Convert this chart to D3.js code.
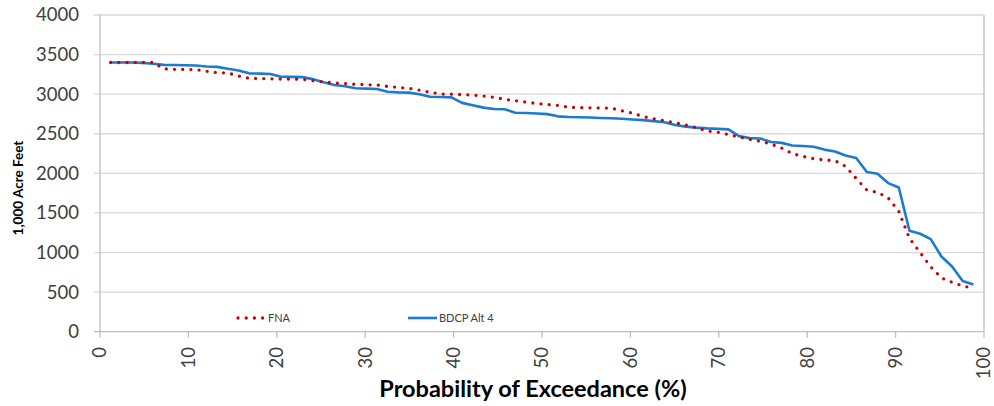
<!DOCTYPE html>
<html><head><meta charset="utf-8">
<script src="https://cdn.jsdelivr.net/npm/d3@7"></script>
<style>body{margin:0;background:#fff}svg{display:block}</style>
</head><body>
<svg id="c" width="994" height="406"></svg>
<script>
const seriesNames = ["FNA", "BDCP Alt 4"];
const nYears = 82;
const fnaValues = [3400,3400,3400,3400,3400,3320,3314,3312,3310,3290,3272,3268,3230,3200,3198,3195,3191,3190,3188,3172,
3155,3140,3135,3125,3120,3116,3098,3085,3074,3050,3023,3002,3000,2995,2990,2977,2960,2935,2918,2900,
2882,2870,2858,2835,2830,2828,2826,2824,2790,2760,2718,2690,2665,2640,2610,2577,2535,2520,2490,2460,
2430,2405,2370,2320,2250,2215,2185,2170,2160,2090,1935,1790,1760,1690,1520,1180,1000,820,680,624,580,545];
const bdcpValues = [3400,3400,3400,3395,3385,3370,3368,3366,3363,3350,3345,3320,3300,3263,3260,3255,3220,3218,3215,3190,
3150,3116,3100,3075,3070,3065,3030,3023,3020,3000,2968,2965,2960,2890,2860,2830,2812,2810,2766,2762,
2755,2748,2720,2712,2708,2705,2700,2695,2690,2680,2672,2660,2645,2610,2590,2577,2568,2562,2555,2470,
2445,2440,2395,2385,2352,2345,2335,2300,2276,2226,2195,2016,1995,1877,1822,1275,1237,1170,950,824,640,595];
const xTicks = [0,10,20,30,40,50,60,70,80,90,100];
const yTicks = [0,500,1000,1500,2000,2500,3000,3500,4000];
const prob = d3.range(1, nYears + 1).map(i => i * 100 / (nYears + 1));

const svg = d3.select("#c");
const font = "Lato, 'Open Sans', sans-serif";
const L = 100, R = 984, T = 15, B = 331.7;
const x = d3.scaleLinear().domain([0, 100]).range([L, R]);
const y = d3.scaleLinear().domain([0, 4000]).range([B, T]);

svg.append("g").selectAll("line").data(yTicks.filter(d => d > 0)).join("line")
  .attr("x1", L - 6).attr("x2", R).attr("y1", d => y(d)).attr("y2", d => y(d))
  .attr("stroke", "#d9d9d9").attr("stroke-width", 1.3);
svg.append("line").attr("x1", R).attr("x2", R).attr("y1", T).attr("y2", B)
  .attr("stroke", "#bfbfbf").attr("stroke-width", 1.3);
svg.append("line").attr("x1", L).attr("x2", L).attr("y1", T).attr("y2", B)
  .attr("stroke", "#bfbfbf").attr("stroke-width", 1.3);
svg.append("line").attr("x1", L - 6).attr("x2", R).attr("y1", B).attr("y2", B)
  .attr("stroke", "#bfbfbf").attr("stroke-width", 1.3);
svg.append("g").selectAll("line").data(xTicks).join("line")
  .attr("x1", d => x(d)).attr("x2", d => x(d)).attr("y1", B).attr("y2", B + 6)
  .attr("stroke", "#bfbfbf").attr("stroke-width", 1.3);

svg.append("g").selectAll("text").data(yTicks).join("text")
  .attr("x", 79).attr("y", d => y(d)).attr("dy", "0.35em")
  .attr("text-anchor", "end").attr("font-family", font).attr("font-size", 18.5)
  .attr("fill", "#404040").text(d => d);
svg.append("g").selectAll("text").data(xTicks).join("text")
  .attr("transform", d => `translate(${x(d)},347) rotate(-90)`)
  .attr("dy", "0.35em").attr("text-anchor", "end")
  .attr("font-family", font).attr("font-size", 18.5).attr("fill", "#404040").text(d => d);

svg.append("text").attr("transform", "translate(18,188) rotate(-90)")
  .attr("dy", "0.35em").attr("text-anchor", "middle").attr("font-family", font)
  .attr("font-weight", "bold").attr("font-size", 13.5).attr("fill", "#000").text("1,000 Acre Feet");
svg.append("text").attr("x", 533).attr("y", 397).attr("text-anchor", "middle")
  .attr("font-family", font).attr("font-weight", "bold").attr("font-size", 23.5)
  .attr("fill", "#000").text("Probability of Exceedance (%)");

const line = d3.line().x(d => x(d[0])).y(d => y(d[1]));
const blueData = prob.map((p, i) => [p, bdcpValues[i]]);
const redData = prob.map((p, i) => [p, fnaValues[i]]);
svg.append("path").attr("d", line(blueData)).attr("fill", "none")
  .attr("stroke", "#1b7bd0").attr("stroke-width", 2.6).attr("stroke-linejoin", "round");
svg.append("path").attr("d", line(redData)).attr("fill", "none")
  .attr("stroke", "#cc0000").attr("stroke-width", 3.3).attr("stroke-dasharray", "0,8.2")
  .attr("stroke-linecap", "round");

const lg = svg.append("g");
lg.append("line").attr("x1", 238).attr("x2", 263).attr("y1", 318).attr("y2", 318)
  .attr("stroke", "#cc0000").attr("stroke-width", 3.3).attr("stroke-dasharray", "0,8.2").attr("stroke-linecap", "round");
lg.append("text").attr("x", 268).attr("y", 318).attr("dy", "0.35em").attr("font-family", font)
  .attr("font-size", 11).attr("fill", "#404040").text(seriesNames[0]);
lg.append("line").attr("x1", 408).attr("x2", 437).attr("y1", 318).attr("y2", 318)
  .attr("stroke", "#1b7bd0").attr("stroke-width", 2.6);
lg.append("text").attr("x", 439).attr("y", 318).attr("dy", "0.35em").attr("font-family", font)
  .attr("font-size", 11).attr("fill", "#404040").text(seriesNames[1]);
</script>
</body></html>
